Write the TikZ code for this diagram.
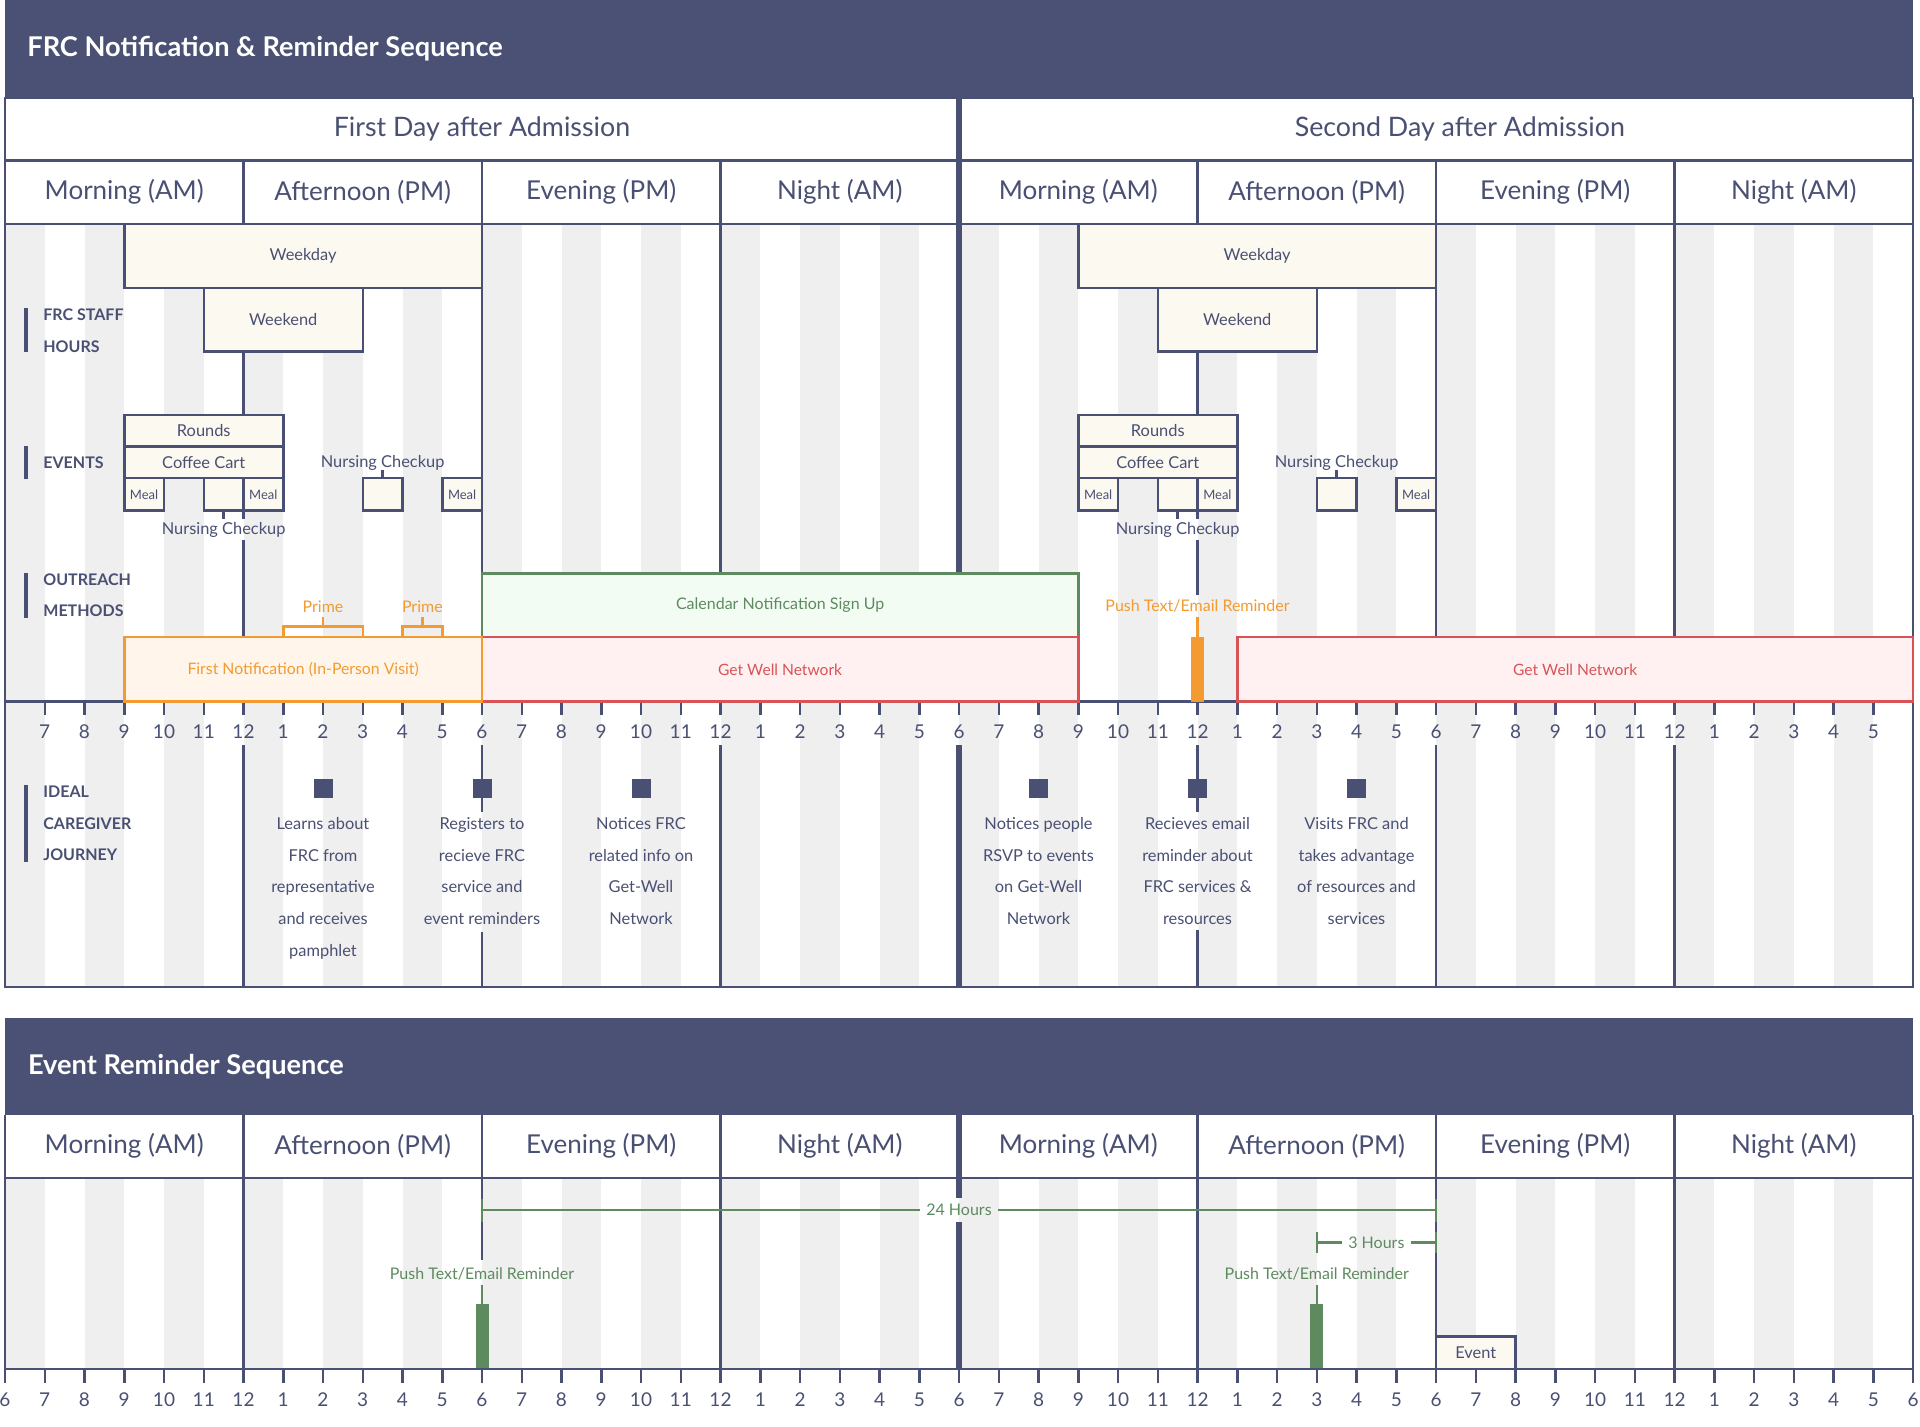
\documentclass[tikz,border=0pt]{standalone}
\usepackage{fontspec}
\setmainfont{Lato}
\usetikzlibrary{fit}
\definecolor{navy}{HTML}{4A5073}
\definecolor{band}{HTML}{4B5174}
\definecolor{stripe}{HTML}{EFEFEF}
\definecolor{cream}{HTML}{FCF9F0}
\definecolor{orng}{HTML}{F39B30}
\definecolor{orngfill}{HTML}{FFF5EB}
\definecolor{grn}{HTML}{5E8A60}
\definecolor{grnfill}{HTML}{F3FCF3}
\definecolor{rd}{HTML}{D95356}
\definecolor{rdfill}{HTML}{FFF1F1}
\newcommand\tbox[7]{\node[#1,fit={(#3,#4) (#5,#6)}] (#2) {};
  \node[#1,draw=none,fill=none] (#2t) at (#2.center) {#7};}
\begin{document}
\begin{tikzpicture}[x=19.875pt,y=-0.5pt,
  nv/.style={draw=navy,line width=1.25pt},
  nvthick/.style={draw=navy,line width=3pt},
  cbox/.style={draw=navy,line width=1.25pt,fill=cream,inner sep=0pt,text=navy,font=\fontsize{8.2}{9.8}\selectfont},
  mbox/.style={cbox,font=\fontsize{6.5}{7.8}\selectfont},
  obox/.style={draw=orng,line width=1.25pt,fill=orngfill,inner sep=0pt,text=orng,font=\fontsize{7.9}{9.5}\selectfont},
  gbox/.style={draw=grn,line width=1.25pt,fill=grnfill,inner sep=0pt,text=grn,font=\fontsize{8}{9.6}\selectfont},
  rbox/.style={draw=rd,line width=1.25pt,fill=rdfill,inner sep=0pt,text=rd,font=\fontsize{7.8}{9.4}\selectfont},
  lbl/.style={text=navy,font=\fontsize{8.2}{9.8}\selectfont,inner sep=1pt},
  per/.style={text=navy,font=\fontsize{13}{15.6}\selectfont},
  dayl/.style={text=navy,font=\fontsize{13.4}{16}\selectfont},
  tk/.style={text=navy,font=\fontsize{9.5}{11}\selectfont},
  sec/.style={text=navy,font=\bfseries\fontsize{8}{9.6}\selectfont,anchor=west,inner sep=0pt},
  secbar/.style={draw=navy,line width=2pt},
  jt/.style={text=navy,font=\fontsize{8.2}{15.85}\selectfont,align=center,anchor=north,inner sep=0pt},
  sq/.style={fill=navy,minimum size=9.5pt,inner sep=0pt},
  oline/.style={draw=orng,line width=1.25pt},
  gline/.style={draw=grn,line width=1.25pt},
  otext/.style={text=orng,font=\fontsize{8}{9.6}\selectfont,inner sep=1pt},
  gtext/.style={text=grn,font=\fontsize{8}{9.6}\selectfont,inner sep=1pt},
  ttl/.style={text=white,font=\bfseries\fontsize{13.6}{16}\selectfont,anchor=west,inner sep=0pt}]
\useasboundingbox[fill=white] (-0.12579,0) rectangle (48.17610,1426);

% ================= stripes
\foreach \k in {0,...,23} {
  \fill[stripe] (2*\k,224) rectangle (2*\k+1,987);
  \fill[stripe] (2*\k,1178) rectangle (2*\k+1,1369);
}

% ================= TOP PANEL
\fill[band] (0,0) rectangle (48,98);
\node[ttl] (title1) at (0.553,49) {FRC Notification \& Reminder Sequence};
\draw[nv] (0,98) rectangle (48,987);
\draw[nv] (0,160.4) -- (48,160.4);
\draw[nv] (0,224) -- (48,224);
\foreach \h in {6,12,18,30,36,42} \draw[nv] (\h,160.4) -- (\h,224);
\node[dayl] (day1) at (12,128.6) {First Day after Admission};
\node[dayl] (day2) at (36.6,128.6) {Second Day after Admission};
\foreach \h/\t [count=\i] in {3/{Morning (AM)},9/{Afternoon (PM)},15/{Evening (PM)},21/{Night (AM)},27/{Morning (AM)},33/{Afternoon (PM)},39/{Evening (PM)},45/{Night (AM)}}
  \node[per] (per\i) at (\h,192) {\t};

% grid vertical lines (upper)
\draw[nv] (12,224) -- (12,573.3);
\draw[nv] (18,224) -- (18,573.3);
\draw[nv] (36,224) -- (36,637);
\draw[nv] (42,224) -- (42,637);
\draw[nv] (6,351.7) -- (6,415);
\draw[nv] (6,510.7) -- (6,519);
\draw[nv] (6,540) -- (6,637);
\draw[nv] (30,351.7) -- (30,415);
\draw[nv] (30,510.7) -- (30,519);
\draw[nv] (30,540) -- (30,595);
% grid vertical lines (lower)
\foreach \h in {6,18,36,42} \draw[nv] (\h,745) -- (\h,987);
\draw[nv] (12,745) -- (12,811.7);
\draw[nv] (12,931.7) -- (12,987);
\draw[nv] (30,745) -- (30,811.7);
\draw[nv] (30,930) -- (30,987);
\draw[nvthick] (24,98) -- (24,573.3);
\draw[nvthick] (24,745) -- (24,987);

% axis
\draw[nv] (0,701.6) -- (48,701.6);
\foreach \h in {1,...,47} {
  \draw[nv] (\h,701.6) -- (\h,715);
  \pgfmathtruncatemacro\lab{mod(\h+5,12)+1}
  \node[tk] (ta\h) at (\h,732) {\lab};
}

% section labels
\draw[secbar] (0.516,308) -- (0.516,352);
\node[sec] (s1a) at (0.956,315) {FRC STAFF};
\node[sec] (s1b) at (0.956,346.7) {HOURS};
\draw[secbar] (0.516,445.7) -- (0.516,479.3);
\node[sec] (s2a) at (0.956,463) {EVENTS};
\draw[secbar] (0.516,572.7) -- (0.516,617.7);
\node[sec] (s3a) at (0.956,580) {OUTREACH};
\node[sec] (s3b) at (0.956,611) {METHODS};
\draw[secbar] (0.516,785) -- (0.516,861.7);
\node[sec] (s4a) at (0.956,791.7) {IDEAL};
\node[sec] (s4b) at (0.956,823.3) {CAREGIVER};
\node[sec] (s4c) at (0.956,855) {JOURNEY};

% staff hours and events (two days)
\foreach \d/\o in {1/0,2/24} {
  \tbox{cbox}{wd\d}{\o+3}{224}{\o+12}{288}{Weekday}
  \tbox{cbox}{we\d}{\o+5}{288}{\o+9}{351.7}{Weekend}
  \tbox{cbox}{ro\d}{\o+3}{415}{\o+7}{446.7}{Rounds}
  \tbox{cbox}{cc\d}{\o+3}{446.7}{\o+7}{478}{Coffee Cart}
  \tbox{mbox}{ma\d}{\o+3}{478}{\o+4}{510.7}{Meal}
  \tbox{mbox}{mb\d}{\o+5}{478}{\o+6}{510.7}{}
  \tbox{mbox}{mc\d}{\o+6}{478}{\o+7}{510.7}{Meal}
  \tbox{mbox}{md\d}{\o+9}{478}{\o+10}{510.7}{}
  \tbox{mbox}{me\d}{\o+11}{478}{\o+12}{510.7}{Meal}
  \node[lbl] (nca\d) at (\o+5.5,529.5) {Nursing Checkup};
  \draw[nv] (mb\d.south) -- ++(0,7);
  \node[lbl] (ncb\d) at (\o+9.5,463) {Nursing Checkup};
  \draw[nv] (md\d.north) -- ++(0,-6.5);
}

% outreach
\tbox{gbox}{cal}{12}{573.3}{27}{637}{Calendar Notification Sign Up}
\tbox{rbox}{gw1}{12}{637}{27}{701.6}{Get Well Network}
\tbox{rbox}{gw2}{31}{637}{48}{701.6}{Get Well Network}
\tbox{obox}{fn}{3}{637}{12}{701.6}{First Notification (In-Person Visit)}
\draw[oline] (7,637) -- (7,626.7) -- (9,626.7) -- (9,637);
\draw[oline] (8,626.7) -- (8,617);
\node[otext] (pr1) at (8,606.5) {Prime};
\draw[oline] (10,637) -- (10,626.7) -- (11,626.7) -- (11,637);
\draw[oline] (10.5,626.7) -- (10.5,617);
\node[otext] (pr2) at (10.5,606.5) {Prime};
\node[otext] (push1) at (30,606) {Push Text/Email Reminder};
\node[fill=orng,minimum width=6.5pt,minimum height=32.45pt,anchor=north,inner sep=0pt] (obar) at (30,636.7) {};
\draw[oline] (30,616.7) -- (obar.north);

% caregiver journey
\foreach \h/\t [count=\i] in {
  8/{Learns about\\FRC from\\representative\\and receives\\pamphlet},
  12/{Registers to\\recieve FRC\\service and\\event reminders},
  16/{Notices FRC\\related info on\\Get-Well\\Network},
  26/{Notices people\\RSVP to events\\on Get-Well\\Network},
  30/{Recieves email\\reminder about\\FRC services \&\\resources},
  34/{Visits FRC and\\takes advantage\\of resources and\\services}} {
  \node[sq] (sq\i) at (\h,788.5) {};
  \node[jt] (jt\i) at (\h,817) {\t};
}

% ================= LOWER PANEL
\fill[band] (0,1018) rectangle (48,1115);
\node[ttl] (title2) at (0.57,1066.7) {Event Reminder Sequence};
\draw[nv] (0,1115) -- (0,1369);
\draw[nv] (48,1115) -- (48,1369);
\draw[nv] (0,1178) -- (48,1178);
\foreach \h/\t [count=\i] in {3/{Morning (AM)},9/{Afternoon (PM)},15/{Evening (PM)},21/{Night (AM)},27/{Morning (AM)},33/{Afternoon (PM)},39/{Evening (PM)},45/{Night (AM)}}
  \node[per] (lper\i) at (\h,1146) {\t};
\foreach \h in {6,18,30,36,42} \draw[nv] (\h,1115) -- (\h,1369);
\draw[nv] (12,1115) -- (12,1260);
\draw[nvthick] (24,1115) -- (24,1198);
\draw[nvthick] (24,1222) -- (24,1369);

% 24 hours
\node[gtext,inner sep=3pt] (h24) at (24,1210) {24 Hours};
\draw[gline] (12,1210) -- (h24.west);
\draw[gline] (h24.east) -- (36,1210);
\draw[gline] (12,1199) -- (12,1222);
\draw[gline] (36,1199) -- (36,1222);
% 3 hours
\node[gtext,inner sep=3pt] (h3) at (34.5,1242.3) {3 Hours};
\draw[gline] (33,1242.3) -- (h3.west);
\draw[gline] (h3.east) -- (36,1242.3);
\draw[gline] (33,1231.7) -- (33,1252.7);
\draw[gline] (36,1231.7) -- (36,1252.7);

% reminders
\node[gtext] (pg1) at (12,1274) {Push Text/Email Reminder};
\node[fill=grn,minimum width=6.5pt,minimum height=32.5pt,anchor=north,inner sep=0pt] (gbar1) at (12,1304) {};
\draw[gline] (12,1285) -- (gbar1.north);
\node[gtext] (pg2) at (33,1274) {Push Text/Email Reminder};
\node[fill=grn,minimum width=6.5pt,minimum height=32.5pt,anchor=north,inner sep=0pt] (gbar2) at (33,1304) {};
\draw[gline] (33,1285) -- (gbar2.north);

\tbox{cbox}{ev}{36}{1336.7}{38}{1369}{Event}

% lower axis
\draw[nv] (0,1369) -- (48,1369);
\foreach \h in {0,...,48} {
  \draw[nv] (\h,1369) -- (\h,1383);
  \pgfmathtruncatemacro\lab{mod(\h+5,12)+1}
  \node[tk] (tb\h) at (\h,1400) {\lab};
}
\end{tikzpicture}
\end{document}
